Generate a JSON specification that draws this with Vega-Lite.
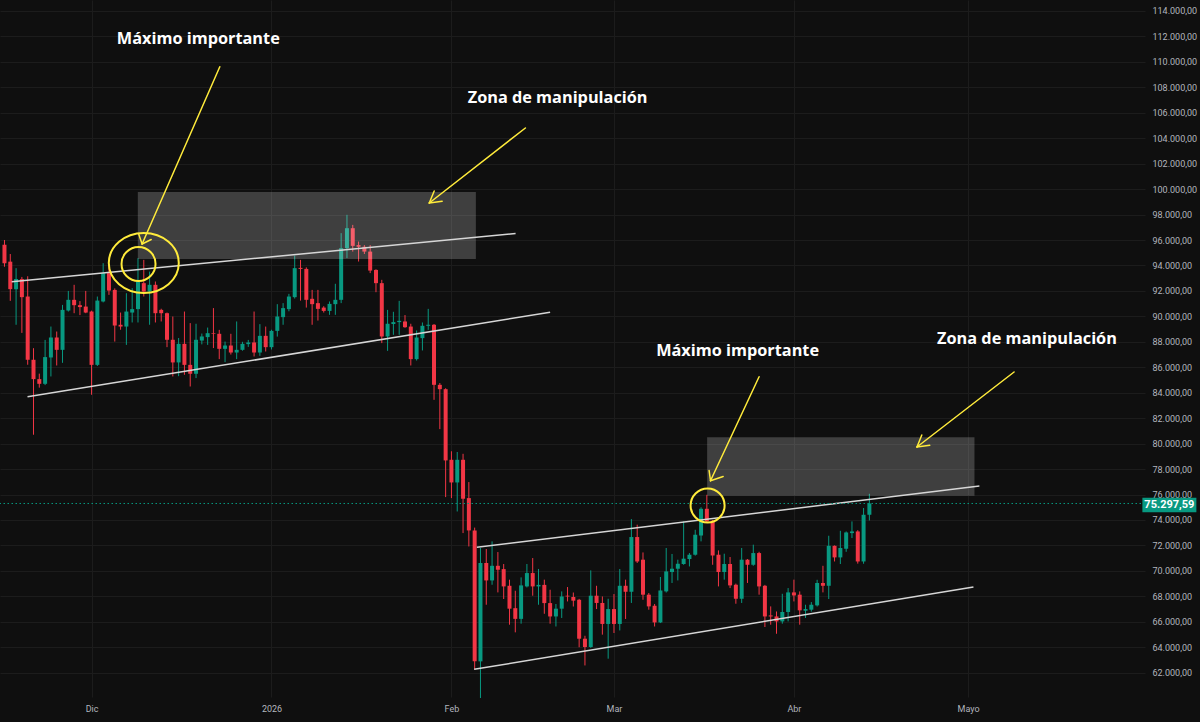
{
  "$schema": "https://vega.github.io/schema/vega-lite/v6.json",
  "width": 1145,
  "height": 697,
  "autosize": {"type": "none"},
  "padding": {"left": 0, "top": 0, "right": 55, "bottom": 25},
  "background": "#0f0f0f",
  "config": {
    "view": {"stroke": null},
    "axis": {"labelOverlap": false, "title": null},
    "locale": {"number": {"decimal": ",", "thousands": ".", "grouping": [3], "currency": ["", " €"]}}
  },
  "datasets": {
    "candles": [
      {"date":"2025-11-16","open":95620,"high":96000,"low":93900,"close":94180},
      {"date":"2025-11-17","open":94300,"high":94900,"low":91220,"close":92140},
      {"date":"2025-11-18","open":92140,"high":93790,"low":89340,"close":92930},
      {"date":"2025-11-19","open":92930,"high":93100,"low":88700,"close":91510},
      {"date":"2025-11-20","open":91560,"high":93150,"low":86200,"close":86590},
      {"date":"2025-11-21","open":86590,"high":87500,"low":80700,"close":85070},
      {"date":"2025-11-22","open":85070,"high":85500,"low":84400,"close":84700},
      {"date":"2025-11-23","open":84700,"high":88150,"low":84600,"close":86800},
      {"date":"2025-11-24","open":86770,"high":89200,"low":85280,"close":88340},
      {"date":"2025-11-25","open":88340,"high":88810,"low":86140,"close":87370},
      {"date":"2025-11-26","open":87370,"high":90900,"low":86350,"close":90510},
      {"date":"2025-11-27","open":90460,"high":92000,"low":90380,"close":91300},
      {"date":"2025-11-28","open":91300,"high":92480,"low":90250,"close":90880},
      {"date":"2025-11-29","open":90880,"high":91200,"low":90100,"close":90730},
      {"date":"2025-11-30","open":90770,"high":92000,"low":90250,"close":90300},
      {"date":"2025-12-01","open":90380,"high":90450,"low":83840,"close":86190},
      {"date":"2025-12-02","open":86190,"high":91560,"low":86100,"close":91240},
      {"date":"2025-12-03","open":91170,"high":94180,"low":91100,"close":93400},
      {"date":"2025-12-04","open":93400,"high":94100,"low":91690,"close":92030},
      {"date":"2025-12-05","open":92080,"high":92200,"low":88020,"close":89280},
      {"date":"2025-12-06","open":89340,"high":90300,"low":88950,"close":89200},
      {"date":"2025-12-07","open":89200,"high":91820,"low":87760,"close":90380},
      {"date":"2025-12-08","open":90300,"high":92220,"low":89520,"close":90570},
      {"date":"2025-12-09","open":90570,"high":94570,"low":89520,"close":92740},
      {"date":"2025-12-10","open":92610,"high":94440,"low":91560,"close":91950},
      {"date":"2025-12-11","open":91950,"high":93520,"low":89340,"close":92480},
      {"date":"2025-12-12","open":92480,"high":92740,"low":89520,"close":90250},
      {"date":"2025-12-13","open":90510,"high":90600,"low":89600,"close":90250},
      {"date":"2025-12-14","open":90250,"high":90300,"low":87580,"close":88160},
      {"date":"2025-12-15","open":88160,"high":89990,"low":85280,"close":86380},
      {"date":"2025-12-16","open":86380,"high":88300,"low":85300,"close":87840},
      {"date":"2025-12-17","open":87840,"high":90380,"low":85410,"close":86190},
      {"date":"2025-12-18","open":86190,"high":89470,"low":84490,"close":85490},
      {"date":"2025-12-19","open":85490,"high":89420,"low":85150,"close":88160},
      {"date":"2025-12-20","open":88100,"high":88650,"low":87800,"close":88420},
      {"date":"2025-12-21","open":88370,"high":89120,"low":87760,"close":88680},
      {"date":"2025-12-22","open":88680,"high":90650,"low":87510,"close":88630},
      {"date":"2025-12-23","open":88630,"high":88940,"low":86640,"close":87450},
      {"date":"2025-12-24","open":87450,"high":88020,"low":86400,"close":87710},
      {"date":"2025-12-25","open":87710,"high":88630,"low":87000,"close":87160},
      {"date":"2025-12-26","open":87160,"high":89600,"low":86640,"close":87370},
      {"date":"2025-12-27","open":87370,"high":88000,"low":87300,"close":87840},
      {"date":"2025-12-28","open":87820,"high":88150,"low":87600,"close":87950},
      {"date":"2025-12-29","open":87950,"high":90380,"low":86850,"close":87160},
      {"date":"2025-12-30","open":87160,"high":89390,"low":86900,"close":88470},
      {"date":"2025-12-31","open":88470,"high":89200,"low":87240,"close":87580},
      {"date":"2026-01-01","open":87580,"high":88950,"low":87400,"close":88860},
      {"date":"2026-01-02","open":88860,"high":90960,"low":88410,"close":89990},
      {"date":"2026-01-03","open":89940,"high":91040,"low":89340,"close":90650},
      {"date":"2026-01-04","open":90570,"high":91770,"low":90400,"close":91560},
      {"date":"2026-01-05","open":91510,"high":94780,"low":91400,"close":93790},
      {"date":"2026-01-06","open":93810,"high":94440,"low":91240,"close":93730},
      {"date":"2026-01-07","open":93730,"high":93850,"low":90690,"close":91300},
      {"date":"2026-01-08","open":91380,"high":92080,"low":89340,"close":90960},
      {"date":"2026-01-09","open":91040,"high":92080,"low":89670,"close":90590},
      {"date":"2026-01-10","open":90690,"high":90800,"low":90300,"close":90430},
      {"date":"2026-01-11","open":90430,"high":91170,"low":90120,"close":90980},
      {"date":"2026-01-12","open":90960,"high":92560,"low":90120,"close":91300},
      {"date":"2026-01-13","open":91300,"high":96540,"low":91040,"close":95360},
      {"date":"2026-01-14","open":95360,"high":97980,"low":94580,"close":96930},
      {"date":"2026-01-15","open":96930,"high":97190,"low":95090,"close":95540},
      {"date":"2026-01-16","open":95600,"high":95880,"low":94310,"close":95470},
      {"date":"2026-01-17","open":95470,"high":95600,"low":94900,"close":95090},
      {"date":"2026-01-18","open":95090,"high":95600,"low":93400,"close":93600},
      {"date":"2026-01-19","open":93650,"high":93700,"low":91900,"close":92610},
      {"date":"2026-01-20","open":92610,"high":92870,"low":87900,"close":88420},
      {"date":"2026-01-21","open":88420,"high":90510,"low":87290,"close":89420},
      {"date":"2026-01-22","open":89400,"high":90360,"low":88550,"close":89550},
      {"date":"2026-01-23","open":89550,"high":91220,"low":88550,"close":89650},
      {"date":"2026-01-24","open":89600,"high":90100,"low":89100,"close":89150},
      {"date":"2026-01-25","open":89200,"high":89420,"low":86140,"close":86640},
      {"date":"2026-01-26","open":86640,"high":88890,"low":86530,"close":88340},
      {"date":"2026-01-27","open":88290,"high":89520,"low":87320,"close":89260},
      {"date":"2026-01-28","open":89260,"high":90590,"low":88940,"close":89340},
      {"date":"2026-01-29","open":89340,"high":89400,"low":83440,"close":84620},
      {"date":"2026-01-30","open":84620,"high":84760,"low":81140,"close":84280},
      {"date":"2026-01-31","open":84280,"high":84350,"low":75800,"close":78680},
      {"date":"2026-02-01","open":78730,"high":79400,"low":75720,"close":76950},
      {"date":"2026-02-02","open":76950,"high":79340,"low":74670,"close":78730},
      {"date":"2026-02-03","open":78730,"high":79200,"low":72970,"close":75670},
      {"date":"2026-02-04","open":75720,"high":76980,"low":71920,"close":73180},
      {"date":"2026-02-05","open":73180,"high":73400,"low":62240,"close":62890},
      {"date":"2026-02-06","open":62890,"high":71800,"low":60010,"close":70620},
      {"date":"2026-02-07","open":70620,"high":71720,"low":67340,"close":69250},
      {"date":"2026-02-08","open":69250,"high":72320,"low":68910,"close":70400},
      {"date":"2026-02-09","open":70400,"high":71480,"low":68310,"close":70090},
      {"date":"2026-02-10","open":70140,"high":70540,"low":67790,"close":68780},
      {"date":"2026-02-11","open":68830,"high":69310,"low":65770,"close":67030},
      {"date":"2026-02-12","open":67070,"high":68440,"low":65170,"close":66230},
      {"date":"2026-02-13","open":66230,"high":69490,"low":65850,"close":68860},
      {"date":"2026-02-14","open":68780,"high":70540,"low":68700,"close":69830},
      {"date":"2026-02-15","open":69830,"high":71010,"low":68050,"close":68780},
      {"date":"2026-02-16","open":68780,"high":70150,"low":67340,"close":68900},
      {"date":"2026-02-17","open":68900,"high":69310,"low":66630,"close":67470},
      {"date":"2026-02-18","open":67470,"high":68520,"low":65850,"close":66420},
      {"date":"2026-02-19","open":66420,"high":67400,"low":65630,"close":67030},
      {"date":"2026-02-20","open":67030,"high":68390,"low":66300,"close":67990},
      {"date":"2026-02-21","open":68050,"high":68730,"low":67600,"close":67990},
      {"date":"2026-02-22","open":67950,"high":68300,"low":67200,"close":67660},
      {"date":"2026-02-23","open":67730,"high":67800,"low":64000,"close":64670},
      {"date":"2026-02-24","open":64670,"high":64900,"low":62570,"close":64020},
      {"date":"2026-02-25","open":64020,"high":70040,"low":63950,"close":68050},
      {"date":"2026-02-26","open":68050,"high":68830,"low":67000,"close":67480},
      {"date":"2026-02-27","open":67480,"high":67990,"low":64990,"close":65830},
      {"date":"2026-02-28","open":65830,"high":67810,"low":63100,"close":67000},
      {"date":"2026-03-01","open":67000,"high":68180,"low":65120,"close":65830},
      {"date":"2026-03-02","open":65830,"high":70150,"low":65320,"close":68830},
      {"date":"2026-03-03","open":68830,"high":69310,"low":66220,"close":68360},
      {"date":"2026-03-04","open":68360,"high":74070,"low":67480,"close":72660},
      {"date":"2026-03-05","open":72660,"high":73630,"low":70620,"close":70740},
      {"date":"2026-03-06","open":70880,"high":71450,"low":67730,"close":68130},
      {"date":"2026-03-07","open":68130,"high":68260,"low":66950,"close":67210},
      {"date":"2026-03-08","open":67260,"high":67400,"low":65630,"close":65950},
      {"date":"2026-03-09","open":65950,"high":69520,"low":65900,"close":68460},
      {"date":"2026-03-10","open":68390,"high":71800,"low":68300,"close":69960},
      {"date":"2026-03-11","open":69910,"high":71330,"low":69050,"close":70170},
      {"date":"2026-03-12","open":70170,"high":70880,"low":69250,"close":70560},
      {"date":"2026-03-13","open":70540,"high":73890,"low":70480,"close":70960},
      {"date":"2026-03-14","open":70930,"high":71400,"low":70350,"close":71270},
      {"date":"2026-03-15","open":71270,"high":73230,"low":71200,"close":72840},
      {"date":"2026-03-16","open":72780,"high":75000,"low":72320,"close":74880},
      {"date":"2026-03-17","open":74880,"high":75980,"low":73800,"close":73890},
      {"date":"2026-03-18","open":73940,"high":74000,"low":70480,"close":71210},
      {"date":"2026-03-19","open":71270,"high":71610,"low":68780,"close":69910},
      {"date":"2026-03-20","open":69910,"high":71350,"low":69310,"close":70540},
      {"date":"2026-03-21","open":70540,"high":71090,"low":68650,"close":68860},
      {"date":"2026-03-22","open":68910,"high":69000,"low":67420,"close":67810},
      {"date":"2026-03-23","open":67810,"high":71800,"low":67480,"close":70880},
      {"date":"2026-03-24","open":70880,"high":70930,"low":69050,"close":70480},
      {"date":"2026-03-25","open":70480,"high":72060,"low":70400,"close":71400},
      {"date":"2026-03-26","open":71400,"high":71500,"low":68130,"close":68780},
      {"date":"2026-03-27","open":68830,"high":68900,"low":65590,"close":66420},
      {"date":"2026-03-28","open":66500,"high":67210,"low":65770,"close":66420},
      {"date":"2026-03-29","open":66420,"high":66810,"low":65060,"close":66030},
      {"date":"2026-03-30","open":66030,"high":68200,"low":65850,"close":66770},
      {"date":"2026-03-31","open":66770,"high":68650,"low":66030,"close":68310},
      {"date":"2026-04-01","open":68310,"high":69310,"low":67600,"close":68070},
      {"date":"2026-04-02","open":68130,"high":68390,"low":65770,"close":66900},
      {"date":"2026-04-03","open":66870,"high":67340,"low":66300,"close":67000},
      {"date":"2026-04-04","open":66950,"high":67550,"low":66800,"close":67340},
      {"date":"2026-04-05","open":67290,"high":69300,"low":67200,"close":69050},
      {"date":"2026-04-06","open":69050,"high":70400,"low":68310,"close":68830},
      {"date":"2026-04-07","open":68830,"high":72760,"low":67790,"close":71970},
      {"date":"2026-04-08","open":71970,"high":72000,"low":70740,"close":71060},
      {"date":"2026-04-09","open":71060,"high":73150,"low":70540,"close":71800},
      {"date":"2026-04-10","open":71740,"high":73100,"low":71500,"close":73020},
      {"date":"2026-04-11","open":72970,"high":73890,"low":72580,"close":73100},
      {"date":"2026-04-12","open":73100,"high":73200,"low":70570,"close":70740},
      {"date":"2026-04-13","open":70740,"high":74940,"low":70560,"close":74410},
      {"date":"2026-04-14","open":74410,"high":76060,"low":73960,"close":75297.59}
    ],
    "last": [{"date":"2026-04-14","close":75297.59}],
    "boxes": [
      {"t1":"2025-12-08T23:17:00Z","t2":"2026-02-05T05:00:00Z","v1":99773,"v2":94508},
      {"t1":"2026-03-17T01:12:00Z","t2":"2026-05-02T02:30:00Z","v1":80498,"v2":75909}
    ],
    "trend": [
      {"t1":"2025-11-17T05:46:00Z","v1":92725,"t2":"2026-02-12T01:12:00Z","v2":96512},
      {"t1":"2025-11-19T23:17:00Z","v1":83688,"t2":"2026-02-18T00:00:00Z","v2":90320},
      {"t1":"2026-02-05T09:07:00Z","v1":71854,"t2":"2026-05-02T22:48:00Z","v2":76671},
      {"t1":"2026-02-04T22:05:00Z","v1":62267,"t2":"2026-05-01T22:19:00Z","v2":68734}
    ],
    "arrows": [
      {"t1":"2025-12-23T02:20:00Z","v1":109619,"t2":"2025-12-09T17:01:00Z","v2":95687},
      {"t1":"2025-12-09T17:01:00Z","v1":95687,"t2":"2025-12-09T03:30:00Z","v2":96434},
      {"t1":"2025-12-09T17:01:00Z","v1":95687,"t2":"2025-12-11T06:43:00Z","v2":96041},
      {"t1":"2026-02-13T17:46:00Z","v1":104803,"t2":"2026-01-28T04:19:00Z","v2":98909},
      {"t1":"2026-01-28T04:19:00Z","v1":98909,"t2":"2026-01-30T09:36:00Z","v2":99043},
      {"t1":"2026-01-28T04:19:00Z","v1":98909,"t2":"2026-01-29T00:43:00Z","v2":99852},
      {"t1":"2026-03-26T00:00:00Z","v1":85260,"t2":"2026-03-17T15:07:00Z","v2":77087},
      {"t1":"2026-03-17T15:07:00Z","v1":77087,"t2":"2026-03-17T09:22:00Z","v2":77889},
      {"t1":"2026-03-17T15:07:00Z","v1":77087,"t2":"2026-03-19T19:26:00Z","v2":77417},
      {"t1":"2026-05-08T22:19:00Z","v1":85629,"t2":"2026-04-22T04:48:00Z","v2":79736},
      {"t1":"2026-04-22T04:48:00Z","v1":79736,"t2":"2026-04-24T09:36:00Z","v2":79869},
      {"t1":"2026-04-22T04:48:00Z","v1":79736,"t2":"2026-04-23T00:43:00Z","v2":80678}
    ],
    "bigCircle": [{"t":"2025-12-10T00:00:00Z","v":94194}],
    "smallCircles": [
      {"t":"2025-12-09T02:15:00Z","v":94116},
      {"t":"2026-03-17T03:07:00Z","v":75139}
    ],
    "notes": [
      {"t":"2025-12-19T09:22:00Z","v":111403,"label":"Máximo importante"},
      {"t":"2026-02-19T07:00:00Z","v":106728,"label":"Zona de manipulación"},
      {"t":"2026-03-22T07:00:00Z","v":86886,"label":"Máximo importante"},
      {"t":"2026-05-11T03:36:00Z","v":87829,"label":"Zona de manipulación"}
    ]
  },
  "layer": [
    {
      "data": {"name": "candles"},
      "mark": {"type": "rule", "strokeWidth": 1},
      "encoding": {
        "x": {"field": "date", "type": "temporal", "title": null,
          "scale": {"type": "utc", "domain": [{"year":2025,"month":11,"date":16,"hours":2,"minutes":10,"utc":true},{"year":2026,"month":5,"date":30,"hours":14,"minutes":53,"utc":true}]},
          "axis": {
            "values": [{"year":2025,"month":12,"date":1,"utc":true},{"year":2026,"month":1,"date":1,"utc":true},{"year":2026,"month":2,"date":1,"utc":true},{"year":2026,"month":3,"date":1,"utc":true},{"year":2026,"month":4,"date":1,"utc":true},{"year":2026,"month":5,"date":1,"utc":true}],
            "labelExpr": "utcmonth(datum.value) == 0 ? '2026' : ['Ene','Feb','Mar','Abr','Mayo','Jun','Jul','Ago','Sep','Oct','Nov','Dic'][utcmonth(datum.value)]",
            "tickCount": 40,
            "grid": true, "gridColor": "#1c1c1c", "gridWidth": 1,
            "domain": false, "ticks": false,
            "labelColor": "#b2b5be", "labelFont": "Roboto", "labelFontSize": 9,
            "labelPadding": 7, "labelFlush": false, "labelOverlap": false
          }
        },
        "y": {"field": "low", "type": "quantitative", "title": null,
          "scale": {"domain": [60090, 114861], "zero": false, "nice": false},
          "axis": {
            "orient": "right",
            "values": [62000,64000,66000,68000,70000,72000,74000,76000,78000,80000,82000,84000,86000,88000,90000,92000,94000,96000,98000,100000,102000,104000,106000,108000,110000,112000,114000],
            "tickCount": 40,
            "format": ",.2f",
            "grid": true, "gridColor": "#1c1c1c", "gridWidth": 1,
            "domain": false, "ticks": false,
            "labelColor": "#b2b5be", "labelFont": "Roboto", "labelFontSize": 9,
            "labelPadding": 7, "labelOverlap": false, "labelFlush": false, "labelBound": false
          }
        },
        "y2": {"field": "high"},
        "color": {"condition": {"test": "datum.close >= datum.open", "value": "#089981"}, "value": "#f23645"}
      }
    },
    {
      "data": {"name": "candles"},
      "mark": {"type": "bar", "width": 4},
      "encoding": {
        "x": {"field": "date", "type": "temporal", "title": null},
        "y": {"field": "open", "type": "quantitative", "title": null},
        "y2": {"field": "close"},
        "color": {"condition": {"test": "datum.close >= datum.open", "value": "#089981"}, "value": "#f23645"}
      }
    },
    {
      "data": {"name": "boxes"},
      "mark": {"type": "rect", "color": "#ffffff", "opacity": 0.2},
      "encoding": {
        "x": {"field": "t1", "type": "temporal", "title": null},
        "x2": {"field": "t2"},
        "y": {"field": "v1", "type": "quantitative", "title": null},
        "y2": {"field": "v2"}
      }
    },
    {
      "data": {"name": "trend"},
      "mark": {"type": "rule", "color": "#d6d6d6", "strokeWidth": 1.5},
      "encoding": {
        "x": {"field": "t1", "type": "temporal", "title": null},
        "x2": {"field": "t2"},
        "y": {"field": "v1", "type": "quantitative", "title": null},
        "y2": {"field": "v2"}
      }
    },
    {
      "data": {"name": "last"},
      "mark": {"type": "rule", "color": "#089981", "strokeWidth": 1, "strokeDash": [1.5, 2.5]},
      "encoding": {
        "y": {"field": "close", "type": "quantitative", "title": null}
      }
    },
    {
      "data": {"name": "arrows"},
      "mark": {"type": "rule", "color": "#ffeb3b", "strokeWidth": 1.5, "strokeCap": "round"},
      "encoding": {
        "x": {"field": "t1", "type": "temporal", "title": null},
        "x2": {"field": "t2"},
        "y": {"field": "v1", "type": "quantitative", "title": null},
        "y2": {"field": "v2"}
      }
    },
    {
      "data": {"name": "bigCircle"},
      "mark": {"type": "point", "filled": false, "stroke": "#ffeb3b", "strokeWidth": 2, "opacity": 1, "size": 4900, "shape": "M-1,0A1,0.857,0,1,0,1,0A1,0.857,0,1,0,-1,0Z"},
      "encoding": {
        "x": {"field": "t", "type": "temporal", "title": null},
        "y": {"field": "v", "type": "quantitative", "title": null}
      }
    },
    {
      "data": {"name": "smallCircles"},
      "mark": {"type": "point", "filled": false, "stroke": "#ffeb3b", "strokeWidth": 2, "opacity": 1, "size": 1156, "shape": "circle"},
      "encoding": {
        "x": {"field": "t", "type": "temporal", "title": null},
        "y": {"field": "v", "type": "quantitative", "title": null}
      }
    },
    {
      "data": {"name": "notes"},
      "mark": {"type": "text", "color": "#ffffff", "font": "Open Sans", "fontWeight": "bold", "fontSize": 16.3, "align": "center", "baseline": "alphabetic"},
      "encoding": {
        "x": {"field": "t", "type": "temporal", "title": null},
        "y": {"field": "v", "type": "quantitative", "title": null},
        "text": {"field": "label"}
      }
    },
    {
      "data": {"name": "last"},
      "mark": {"type": "point", "filled": true, "color": "#089981", "opacity": 1, "size": 2916, "shape": "M-1,-0.27H1V0.27H-1Z"},
      "encoding": {
        "x": {"field": "date", "type": "temporal", "title": null},
        "y": {"field": "close", "type": "quantitative", "title": null},
        "xOffset": {"value": 300},
        "yOffset": {"value": 1.5}
      }
    },
    {
      "data": {"name": "last"},
      "mark": {"type": "text", "color": "#ffffff", "font": "Roboto", "fontWeight": "bold", "fontSize": 11, "align": "center", "baseline": "middle"},
      "encoding": {
        "x": {"field": "date", "type": "temporal", "title": null},
        "y": {"field": "close", "type": "quantitative", "title": null},
        "xOffset": {"value": 300},
        "yOffset": {"value": 1.5},
        "text": {"field": "close", "type": "quantitative", "format": ",.2f"}
      }
    }
  ]
}
